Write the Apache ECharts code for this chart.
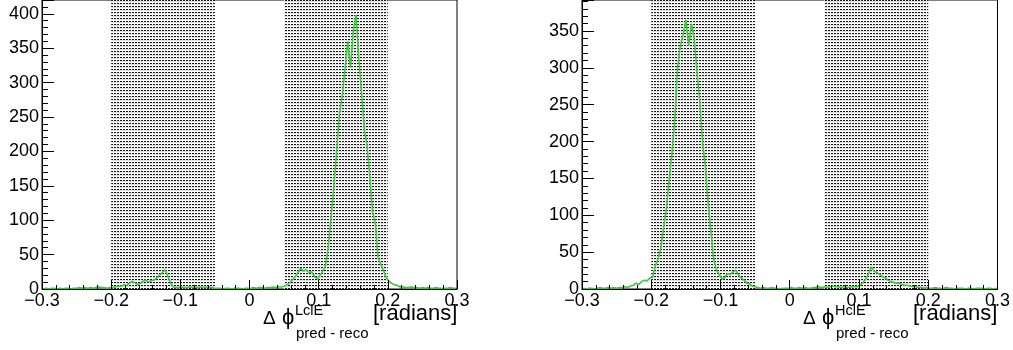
<!DOCTYPE html>
<html>
<head>
<meta charset="utf-8">
<script src="https://cdn.jsdelivr.net/npm/echarts@6/dist/echarts.min.js"></script>
<style>
html,body{margin:0;padding:0;background:#fff;}
#chart{width:1013px;height:350px;}
</style>
</head>
<body>
<div id="chart"></div>
<script>
// Histogram binning: 150 bins of width 0.004 from -0.3 to 0.3
const binLow = -0.3;
const binWidth = 0.004;

// Left panel (LclE) counts per bin
const countsLclE = [
  0,1,0,1,1,0,1,0,1,1,0,1,1,2,1,2,1,2,1,2,3,2,2,1,2,
  2,3,4,4,6,5,8,11,9,7,8,11,13,10,12,13,16,20,24,28,19,8,3,2,
  2,3,2,2,3,2,3,2,3,2,3,2,2,
  1,1,1,0,1,1,0,1,1,1,0,1,1,
  1,2,1,2,2,1,2,2,3,2,3,
  3,4,6,9,13,18,24,30,26,28,24,25,18,15,20,26,
  34,62,105,150,200,255,280,318,360,322,375,398,335,285,232,208,162,112,95,45,36,26,16,11,8,6,5,3,
  3,2,2,3,2,2,1,2,1,2,1,1,2,1,1,1,1,2,1,1
];

// Right panel (HclE) counts per bin
const countsHclE = [
  1,0,1,1,0,1,2,1,1,2,1,2,1,
  2,2,3,2,4,5,8,6,10,12,11,15,16,
  32,41,56,85,110,150,185,230,300,330,345,365,330,360,340,295,255,200,167,118,80,41,26,20,14,15,21,20,23,26,19,15,12,8,7,4,3,
  2,1,2,1,1,2,1,1,0,1,1,1,2,1,1,2,1,2,1,1,2,2,3,2,3,
  2,3,4,3,3,2,3,2,2,3,3,3,5,9,14,21,30,24,22,20,17,15,12,10,9,8,8,6,5,5,4,3,3,2,
  2,1,2,1,1,2,1,1,1,2,1,1,0,1,1,1,0,1,1,0,1,1,1,0,1,1,0,1
];

// Shaded bands (x ranges)
const bandsLclE = [[-0.2, -0.05], [0.05, 0.2]];
const bandsHclE = [[-0.2, -0.05], [0.05, 0.2]];

// Axis settings
const xMin = -0.3, xMax = 0.3, xStep = 0.1;
const yMaxLclE = 420, yMaxHclE = 392, yStep = 50;

function toPairs(counts) {
  return counts.map((c, i) => [Math.round((binLow + binWidth * (i + 0.5)) * 1e5) / 1e5, c]);
}

// dotted fill pattern
const pat = document.createElement('canvas');
pat.width = 3; pat.height = 3;
(function () {
  const ctx = pat.getContext('2d');
  ctx.fillStyle = '#ffffff'; ctx.fillRect(0, 0, 3, 3);
  ctx.fillStyle = '#151515'; ctx.fillRect(0, 0, 2, 1);
  ctx.fillStyle = '#e2e2e2'; ctx.fillRect(0, 1, 3, 1);
})();

const FONT = "'Liberation Sans', Arial, Helvetica, sans-serif";
const GREEN = '#3cc83c';

function xAxis(idx) {
  return {
    type: 'value', gridIndex: idx, min: xMin, max: xMax, interval: xStep, z: 10,
    axisLine: { show: true, onZero: false, lineStyle: { color: '#000', width: 1 } },
    axisTick: { show: true, inside: true, length: 9, lineStyle: { color: '#000', width: 1 } },
    minorTick: { show: true, splitNumber: 5, length: 4, lineStyle: { color: '#000', width: 1 } },
    splitLine: { show: false },
    axisLabel: {
      margin: 3, fontFamily: FONT, fontSize: 18, color: '#000',
      showMinLabel: true, showMaxLabel: true,
      formatter: v => { const r = Math.round(v * 10) / 10; return r === 0 ? '0' : String(r).replace('-', '\u2212'); }
    }
  };
}
function yAxis(idx, max) {
  return {
    type: 'value', gridIndex: idx, min: 0, max: max, interval: yStep, z: 10,
    axisLine: { show: true, onZero: false, lineStyle: { color: '#000', width: 1 } },
    axisTick: { show: true, inside: true, length: 12, lineStyle: { color: '#000', width: 1 } },
    minorTick: { show: true, splitNumber: 5, length: 6, lineStyle: { color: '#000', width: 1 } },
    splitLine: { show: false },
    axisLabel: { margin: 3, fontFamily: FONT, fontSize: 18, color: '#000', showMaxLabel: false }
  };
}
function bandSeries(idx, bands) {
  return {
    type: 'line', xAxisIndex: idx, yAxisIndex: idx, z: 1, silent: true,
    data: [[xMin, 0]], symbol: 'none', lineStyle: { width: 0 },
    markArea: {
      silent: true,
      itemStyle: { color: { image: pat, repeat: 'repeat' }, borderWidth: 0 },
      data: bands.map(b => [{ xAxis: b[0] }, { xAxis: b[1] }])
    }
  };
}
function histSeries(idx, counts) {
  return {
    type: 'line', xAxisIndex: idx, yAxisIndex: idx, z: 5, silent: true,
    data: toPairs(counts), symbol: 'none', animation: false,
    lineStyle: { color: GREEN, width: 1.6 }
  };
}
function axisTitle(x0, sup) {
  return [
    { type: 'text', left: x0, top: 309, style: { text: '\u0394', font: '19px ' + FONT, fill: '#000' } },
    { type: 'text', left: x0 + 19, top: 307, style: { text: '\u03D5', font: '22px ' + FONT, fill: '#000' } },
    { type: 'text', left: x0 + 32, top: 303, style: { text: sup, font: '14.5px ' + FONT, fill: '#000' } },
    { type: 'text', left: x0 + 33, top: 326, style: { text: 'pred - reco', font: '15px ' + FONT, fill: '#000' } },
    { type: 'text', left: x0 + 110, top: 303, style: { text: '[radians]', font: '22px ' + FONT, fill: '#000' } }
  ];
}

const chart = echarts.init(document.getElementById('chart'), null, { renderer: 'canvas' });
chart.setOption({
  animation: false,
  backgroundColor: '#fff',
  grid: [
    { left: 42, top: -1, width: 415, height: 290, show: true, borderColor: '#000', borderWidth: 1, backgroundColor: 'transparent' },
    { left: 582, top: -1, width: 416, height: 290, show: true, borderColor: '#000', borderWidth: 1, backgroundColor: 'transparent' }
  ],
  xAxis: [xAxis(0), xAxis(1)],
  yAxis: [yAxis(0, yMaxLclE), yAxis(1, yMaxHclE)],
  series: [
    bandSeries(0, bandsLclE), histSeries(0, countsLclE),
    bandSeries(1, bandsHclE), histSeries(1, countsHclE)
  ],
  graphic: axisTitle(263, 'LclE').concat(axisTitle(803, 'HclE'))
});
</script>
</body>
</html>
